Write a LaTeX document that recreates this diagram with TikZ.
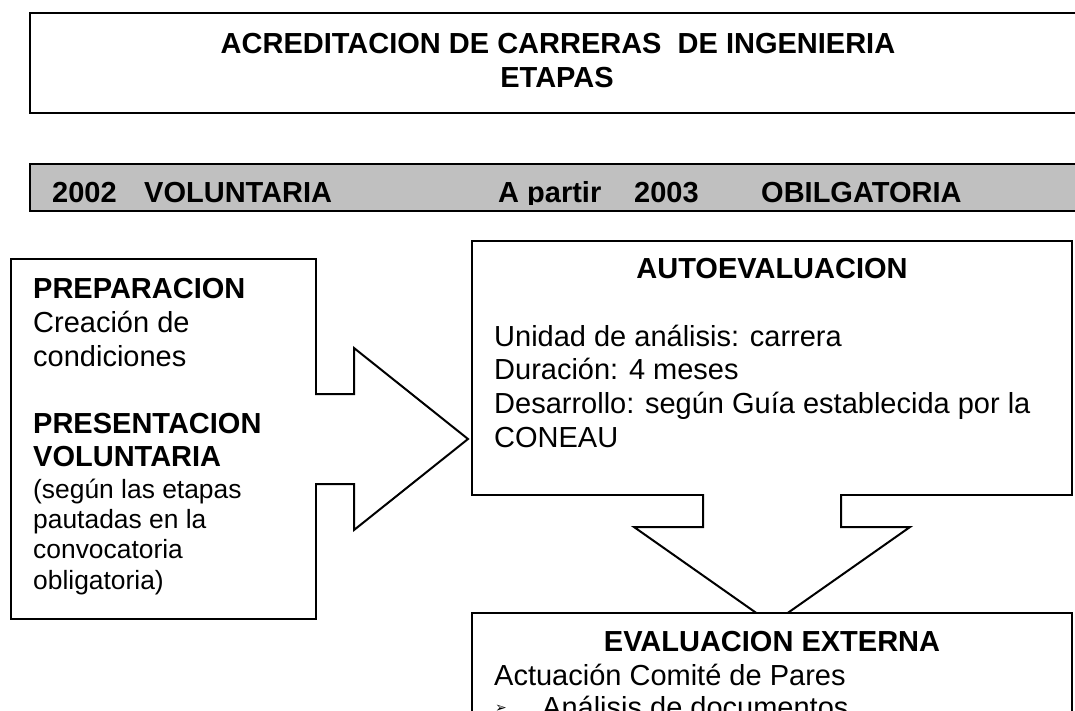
\documentclass[tikz,border=0pt]{standalone}
\usepackage{fontspec}
\setmainfont{Liberation Sans}
\newfontfamily\symfont{DejaVu Sans}
\usetikzlibrary{positioning}
\usetikzlibrary{calc}
\definecolor{bargray}{RGB}{192,192,192}

\tikzset{
	box/.style={draw,line width=2pt,fill=white,inner sep=0pt,outer sep=0pt,anchor=north west},
	blockarrow/.style={draw,line width=2pt,fill=white,line join=miter},
	txt/.style={inner sep=0pt,font=\fontsize{29}{34}\selectfont},
	txthead/.style={inner sep=0pt,font=\fontsize{29}{34}\selectfont\bfseries},
	txtsmall/.style={inner sep=0pt,font=\fontsize{26.4}{30}\selectfont},
}

\begin{document}
\begin{tikzpicture}[x=1pt,y=-1pt]
	\useasboundingbox (0,0) rectangle (1075,710);
	\clip (0,0) rectangle (1075,710);
	% title and years
	\node[box,minimum width=1100pt,minimum height=100pt] (titlebox) at (30,13) {};
	\node[box,fill=bargray,minimum width=1100pt,minimum height=47pt] (yearbar) at (30,164) {};
	\node[txthead,anchor=base] (title) at (558,53) {ACREDITACION DE CARRERAS~ DE INGENIERIA};
	\node[txthead,anchor=base] (etapas) at (557,87) {ETAPAS};
	\begin{scope}
		\clip (30,160) rectangle (1075,204);
		\node[txthead,anchor=base west] (y2002) at (52,202) {2002};
		\node[txthead,anchor=base west] (volunt) at (144,202) {VOLUNTARIA};
		\node[txthead,anchor=base west] (apartir) at (498,202) {A partir};
		\node[txthead,anchor=base west] (y2003) at (634,202) {2003};
		\node[txthead,anchor=base west] (oblig) at (761,202) {OBILGATORIA};
	\end{scope}
	% stage boxes
	\node[box,minimum width=305pt,minimum height=360pt] (prepbox) at (11,259) {};
	\node[box,minimum width=600pt,minimum height=254pt] (autobox) at (472,241) {};
	\draw[blockarrow] ($(prepbox.east)+(-1,-45)$) -- ($(prepbox.east)+(38,-45)$) -- ($(prepbox.east)+(38,-91)$)
		-- ($(autobox.west |- prepbox.east)+(-4,0)$) -- ($(prepbox.east)+(38,91)$) -- ($(prepbox.east)+(38,45)$)
		-- ($(prepbox.east)+(-1,45)$);
	\draw[blockarrow] ($(autobox.south)+(-69,-1)$) -- ($(autobox.south)+(-69,32)$) -- ($(autobox.south)+(-138,32)$)
		-- ($(autobox.south)+(0,129)$) -- ($(autobox.south)+(138,32)$) -- ($(autobox.south)+(69,32)$)
		-- ($(autobox.south)+(69,-1)$);
	\node[box,minimum width=600pt,minimum height=150pt] (evalbox) at (472,613) {};
	% preparacion
	\node[txthead,anchor=base west] (prep) at (33,298) {PREPARACION};
	\node[txt,anchor=base west] (crea) at (33,332) {Creación de};
	\node[txt,anchor=base west] (cond) at (33,366) {condiciones};
	\node[txthead,anchor=base west] (pres) at (33,433) {PRESENTACION};
	\node[txthead,anchor=base west] (presvol) at (33,466) {VOLUNTARIA};
	\node[txtsmall,anchor=base west] (segun) at (33,498) {(según las etapas};
	\node[txtsmall,anchor=base west] (pauta) at (33,528) {pautadas en la};
	\node[txtsmall,anchor=base west] (convo) at (33,558) {convocatoria};
	\node[txtsmall,anchor=base west] (oblg) at (33,589) {obligatoria)};
	% autoevaluacion
	\node[txthead,anchor=base] (auto) at (772,278) {AUTOEVALUACION};
	\node[txt,anchor=base west] (unidad) at (494,346) {Unidad de análisis: carrera};
	\node[txt,anchor=base west] (durac) at (494,379) {Duración: 4 meses};
	\node[txt,anchor=base west] (desarr) at (494,413) {Desarrollo: según Guía establecida por la};
	\node[txt,anchor=base west] (coneau) at (494,447) {CONEAU};
	% evaluacion externa
	\node[txthead,anchor=base] (eval) at (772,651) {EVALUACION EXTERNA};
	\node[txt,anchor=base west] (pares) at (494,685) {Actuación Comité de Pares};
	\node[inner sep=0pt,anchor=base west,font=\symfont\fontsize{14}{16}\selectfont] (bullet) at (495,712) {➢};
	\node[txt,anchor=base west] (analisis) at (542,717) {Análisis de documentos};
\end{tikzpicture}
\end{document}
